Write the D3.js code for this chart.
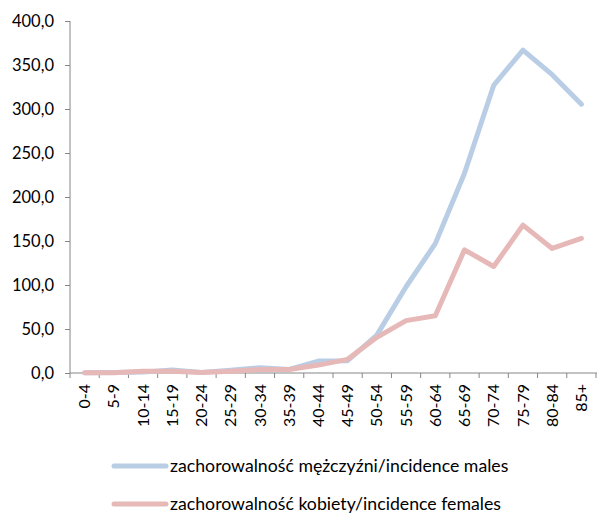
<!DOCTYPE html>
<html><head><meta charset="utf-8">
<script src="https://cdn.jsdelivr.net/npm/d3@7"></script>
<style>body{margin:0;background:#fff}svg{display:block}text{font-family:Lato,"Open Sans",sans-serif;fill:#000}</style>
</head><body><svg id="c" width="597" height="514"></svg>
<script>
const categories=["0-4","5-9","10-14","15-19","20-24","25-29","30-34","35-39","40-44","45-49","50-54","55-59","60-64","65-69","70-74","75-79","80-84","85+"];
const males=[0.2,0.5,1.0,3.4,0.5,3.0,6.0,4.0,13.6,14.0,43.0,98.0,147.0,227.0,327.0,367.0,339.0,305.5];
const females=[0.2,0.3,2.0,2.0,0.5,2.0,4.0,4.0,9.0,15.5,40.5,59.5,65.0,140.0,121.0,168.0,141.5,153.0];
const yTicks=[0,50,100,150,200,250,300,350,400];
const seriesNames=["zachorowalność mężczyźni/incidence males","zachorowalność kobiety/incidence females"];
const colors=["#b9cde5","#e6b9b8"];

const svg=d3.select("#c");
const x=d3.scaleBand().domain(categories).range([70,596]);
const y=d3.scaleLinear().domain([0,400]).range([373,21]);
const axisColor="#868686";
const ff="Lato,'Open Sans',sans-serif";

const ya=svg.append("g").attr("transform","translate(70,0)")
  .call(d3.axisLeft(y).tickValues(yTicks).tickSize(5).tickFormat(d=>d3.format(".1f")(d).replace(".",",")));
ya.selectAll("path,line").attr("stroke",axisColor);
ya.select(".domain").attr("d","M0,21V373");
ya.selectAll("text").attr("font-size","16.5px").attr("x",-16).style("font-family",ff).attr("fill","#000");

const xa=svg.append("g").attr("transform","translate(0,373)")
  .call(d3.axisBottom(x).tickSize(0).tickSizeOuter(0));
xa.select(".domain").attr("stroke",axisColor).attr("d","M70,0H597");
xa.selectAll(".tick line").remove();
xa.selectAll(".tick text").attr("transform","rotate(-90)").attr("x",-11).attr("y",0).attr("dy","0.35em")
  .attr("text-anchor","end").attr("font-size","16px").style("font-family",ff).attr("fill","#000");
svg.append("g").selectAll("line").data(categories.concat(["_end"])).join("line")
  .attr("x1",(d,i)=>70+i*x.step()).attr("x2",(d,i)=>70+i*x.step())
  .attr("y1",373).attr("y2",378).attr("stroke",axisColor);

const line=d3.line().x((d,i)=>x(categories[i])+x.bandwidth()/2).y(d=>y(d));
[males,females].forEach((s,k)=>{
  svg.append("path").datum(s).attr("d",line).attr("fill","none")
    .attr("stroke",colors[k]).attr("stroke-width",5).attr("stroke-linejoin","round").attr("stroke-linecap","round");
});

const lg=svg.append("g");
[466,504].forEach((yy,k)=>{
  lg.append("line").attr("x1",114).attr("x2",166).attr("y1",yy).attr("y2",yy)
    .attr("stroke",colors[k]).attr("stroke-width",5).attr("stroke-linecap","round");
  lg.append("text").attr("x",170).attr("y",yy).attr("dy","0.35em").attr("font-size","17.7px").text(seriesNames[k]);
});
</script></body></html>
